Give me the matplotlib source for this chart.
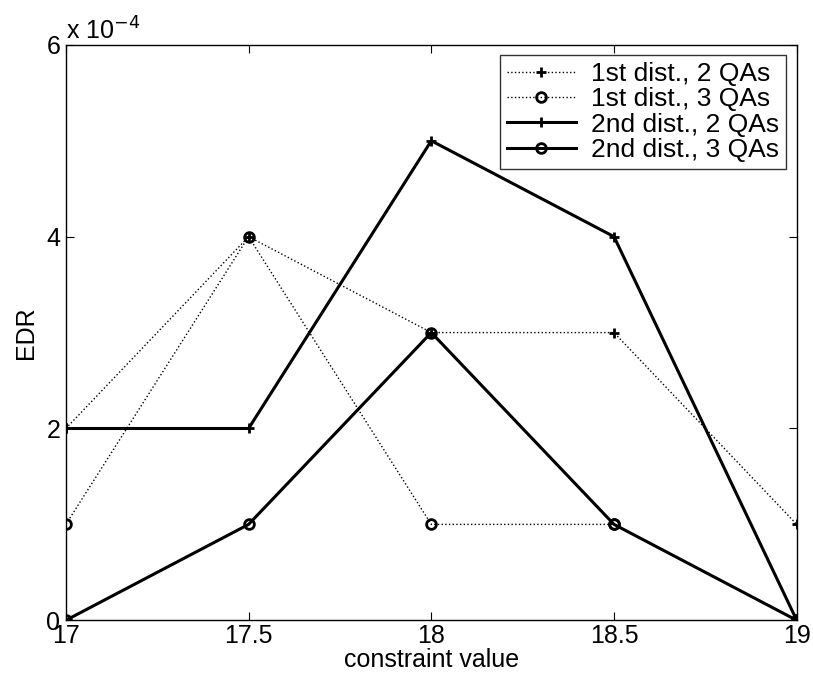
import matplotlib
matplotlib.use('Agg')
import matplotlib.pyplot as plt

plt.rcParams['font.family'] = ['Liberation Sans', 'DejaVu Sans']

# constraint values on the x axis
x_vals = [17, 17.5, 18, 18.5, 19]

# EDR in units of 1e-4
first_2qa = [2, 4, 3, 3, 1]
first_3qa = [1, 4, 1, 1, 0]
second_2qa = [2, 2, 5, 4, 0]
second_3qa = [0, 1, 3, 1, 0]

scale = 1e-4

fig = plt.figure(figsize=(8.13, 6.90), dpi=100)
ax = fig.add_axes([0.081, 0.101, 0.899, 0.834])

ax.plot(x_vals, [v * scale for v in first_2qa], color='k', linestyle=':', linewidth=1,
        marker='+', markersize=7, markeredgewidth=2, label='1st dist., 2 QAs')
ax.plot(x_vals, [v * scale for v in first_3qa], color='k', linestyle=':', linewidth=1,
        marker='o', markersize=7, markeredgewidth=2, markerfacecolor='none', label='1st dist., 3 QAs')
ax.plot(x_vals, [v * scale for v in second_2qa], color='k', linestyle='-', linewidth=2.2,
        marker='+', markersize=7, markeredgewidth=2, label='2nd dist., 2 QAs')
ax.plot(x_vals, [v * scale for v in second_3qa], color='k', linestyle='-', linewidth=2.2,
        marker='o', markersize=7, markeredgewidth=2, markerfacecolor='none', label='2nd dist., 3 QAs')

ax.set_xlim(17, 19)
ax.set_ylim(0, 6 * scale)
ax.set_xticks(x_vals)
ax.set_xticklabels(['17', '17.5', '18', '18.5', '19'])
yt = [0, 2, 4, 6]
ax.set_yticks([v * scale for v in yt])
ax.set_yticklabels([str(v) for v in yt])
ax.tick_params(direction='in', labelsize=18, length=6, top=True, right=True)
ax.tick_params(axis='x', pad=3)
ax.tick_params(axis='y', pad=4)
for s in ax.spines.values():
    s.set_linewidth(1)

ax.text(0.0, 1.0, r'x 10$^{-4}$', transform=ax.transAxes, fontsize=18,
        ha='left', va='bottom')

ax.set_xlabel('constraint value', fontsize=18, labelpad=0)
ax.set_ylabel('EDR', fontsize=18, labelpad=6)

leg = ax.legend(loc='upper right', fontsize=19, frameon=True, fancybox=False,
                edgecolor='k', borderaxespad=0.4, handlelength=2.6, labelspacing=0.05,
                borderpad=0.25, handletextpad=0.6, numpoints=1)
leg.get_frame().set_linewidth(1)

fig.savefig('out.png', dpi=100)
